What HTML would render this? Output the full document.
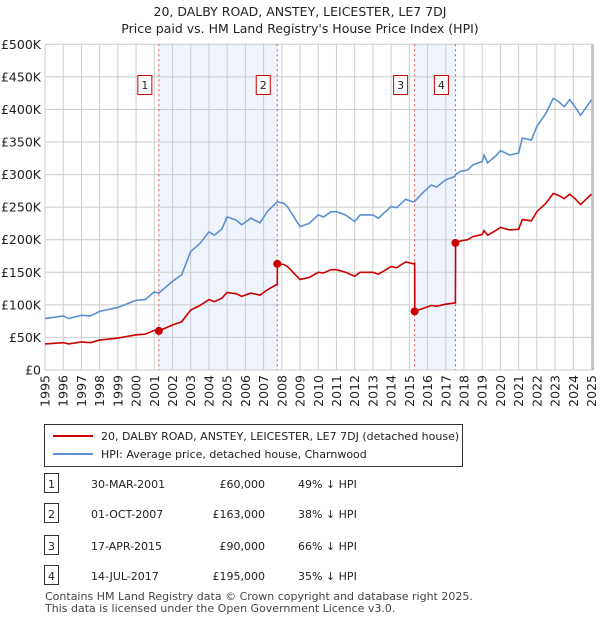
<!DOCTYPE html>
<html><head><meta charset="utf-8"><style>
body{margin:0;background:#fff;font-family:"Liberation Sans","DejaVu Sans",sans-serif;}
svg text{font-family:"DejaVu Sans","Liberation Sans",sans-serif;}
</style></head><body>
<svg id="c" width="600" height="620" xmlns="http://www.w3.org/2000/svg">
<text x="300" y="16" text-anchor="middle" font-size="12.5" fill="#222">20, DALBY ROAD, ANSTEY, LEICESTER, LE7 7DJ</text>
<text x="300" y="33" text-anchor="middle" font-size="12.5" fill="#222">Price paid vs. HM Land Registry's House Price Index (HPI)</text>
<g id="plot"></g>
<g>
<rect x="44.5" y="424.5" width="418" height="42" fill="#fff" stroke="#333"/>
<line x1="53" y1="436" x2="93" y2="436" stroke="#cc0000" stroke-width="2"/>
<text x="101" y="440" font-size="11" fill="#222">20, DALBY ROAD, ANSTEY, LEICESTER, LE7 7DJ (detached house)</text>
<line x1="53" y1="454" x2="93" y2="454" stroke="#5b8fd1" stroke-width="2"/>
<text x="101" y="458" font-size="11" fill="#222">HPI: Average price, detached house, Charnwood</text>
</g>
<g id="tbl" font-size="11" fill="#222"></g>
<text x="45" y="600" font-size="11" fill="#444">Contains HM Land Registry data © Crown copyright and database right 2025.</text>
<text x="45" y="612" font-size="11" fill="#444">This data is licensed under the Open Government Licence v3.0.</text>
</svg>
<script>
const dates=[1995.0,1996.0,1996.3,1997.0,1997.5,1998.0,1999.0,2000.0,2000.5,2001.0,2001.25,2002.0,2002.5,2003.0,2003.5,2004.0,2004.3,2004.7,2005.0,2005.5,2005.8,2006.3,2006.8,2007.2,2007.7,2007.75,2007.76,2008.1,2008.3,2009.0,2009.5,2010.0,2010.3,2010.7,2011.0,2011.5,2012.0,2012.3,2013.0,2013.3,2014.0,2014.3,2014.8,2015.2,2015.29,2015.3,2015.7,2016.2,2016.5,2017.0,2017.5,2017.53,2017.54,2017.8,2018.2,2018.5,2019.0,2019.1,2019.3,2019.8,2020.0,2020.5,2021.0,2021.2,2021.7,2022.0,2022.5,2022.9,2023.2,2023.5,2023.8,2024.1,2024.4,2025.0];
const hpi=[79,83,79,84,83,90,96,107,108,120,118,136,146,182,194,212,207,216,235,230,223,233,226,243,257,258,258,256,251,220,225,238,235,243,243,238,228,238,238,233,251,249,262,258,259,259,271,284,281,292,297,300,300,305,307,315,320,330,318,330,337,330,333,356,353,374,394,417,412,404,415,404,391,415];
const prop=[40,42,40,43,42,46,49,54,55,61,60,69,74,92,99,108,105,110,119,117,113,118,115,123,131,131,163,162,159,139,142,150,149,154,154,150,144,150,150,147,159,157,166,163,164,90,94,99,98,101,103,103,195,198,200,205,208,214,207,215,219,215,216,231,229,243,256,271,268,263,270,263,254,270];
const saleDates=[2001.25,2007.75,2015.29,2017.53];
const salePrices=[60,163,90,195];
const saleLabels=["1","2","3","4"];
const saleDateText=["30-MAR-2001","01-OCT-2007","17-APR-2015","14-JUL-2017"];
const salePriceText=["£60,000","£163,000","£90,000","£195,000"];
const saleHpiText=["49% ↓ HPI","38% ↓ HPI","66% ↓ HPI","35% ↓ HPI"];
const yTicks=[0,50,100,150,200,250,300,350,400,450,500];
const yTickLabels=["£0","£50K","£100K","£150K","£200K","£250K","£300K","£350K","£400K","£450K","£500K"];
const xTicks=[1995,1996,1997,1998,1999,2000,2001,2002,2003,2004,2005,2006,2007,2008,2009,2010,2011,2012,2013,2014,2015,2016,2017,2018,2019,2020,2021,2022,2023,2024,2025];

const NS="http://www.w3.org/2000/svg";
const X0=45,X1=591.5,Y0=370,Y1=44.3;
const xs=d=>X0+(d-1995)/30*(X1-X0);
const ys=v=>Y0-v/500*(Y0-Y1);
function mk(tag,attrs,parent){const e=document.createElementNS(NS,tag);for(const k in attrs)e.setAttribute(k,attrs[k]);parent.appendChild(e);return e;}
const g=document.getElementById('plot');
[[0,1],[2,3]].forEach(([a,b],i)=>{
 const r=mk('rect',{x:xs(saleDates[a]),y:Y1,width:xs(saleDates[b])-xs(saleDates[a]),height:Y0-Y1,fill:'#eef3fc'},g);
 
 
});
xTicks.forEach(t=>{
 const l=mk('line',{x1:xs(t),x2:xs(t),y1:Y1,y2:Y0,stroke:'#cccccc','stroke-width':1},g);
 
 
 const tx=mk('text',{x:0,y:0,'font-size':12.5,fill:'#222','text-anchor':'end',transform:`translate(${xs(t)+4.5},${Y0+5}) rotate(-90)`},g);
 tx.textContent=t;
 
 
});
yTicks.forEach((t,i)=>{
 const l=mk('line',{x1:X0,x2:593,y1:ys(t),y2:ys(t),stroke:'#cccccc','stroke-width':1},g);
 
 
 const tx=mk('text',{x:41,y:ys(t)+4.5,'font-size':12.5,fill:'#222','text-anchor':'end'},g);
 tx.textContent=yTickLabels[i];
 
 
});
const ax=mk('line',{x1:593,x2:593,y1:Y1,y2:Y0,stroke:'#888','stroke-width':1},g);


saleDates.forEach((d,i)=>{
 const l=mk('line',{x1:xs(d),x2:xs(d),y1:Y1,y2:Y0,stroke:'#e05050','stroke-width':1,'stroke-dasharray':'2,3'},g);
 
 
 const bx=mk('rect',{x:xs(d)-21,y:75.5,width:14,height:19,fill:'#fff',stroke:'#cc0000'},g);
 
 
 const tx=mk('text',{x:xs(d)-14,y:89,'font-size':11,fill:'#222','text-anchor':'middle'},g);
 tx.textContent=saleLabels[i];
 
 
});
const hp=mk('polyline',{points:dates.map((d,i)=>xs(d)+','+ys(hpi[i])).join(' '),fill:'none',stroke:'#5b8fd1','stroke-width':1.6},g);


const pp=mk('polyline',{points:dates.map((d,i)=>xs(d)+','+ys(prop[i])).join(' '),fill:'none',stroke:'#cc0000','stroke-width':1.6},g);


saleDates.forEach((d,i)=>{
 const c=mk('circle',{cx:xs(d),cy:ys(salePrices[i]),r:4,fill:'#cc0000'},g);
 
 
});
const tb=document.getElementById('tbl');
const rowY=[484,514,546,576];
rowY.forEach((y,i)=>{
 const bx=mk('rect',{x:44.5,y:y-10.5,width:14,height:19,fill:'#fff',stroke:'#333'},tb);
 
 
 const cells=[[51.5,saleLabels[i],'middle'],[91,saleDateText[i],'start'],[265,salePriceText[i],'end'],[298,saleHpiText[i],'start']];
 cells.forEach(([x,t,a],j)=>{
  const tx=mk('text',{x:x,y:y+4,'text-anchor':a},tb);
  tx.textContent=t;
  
  
 });
});
</script>
</body></html>
